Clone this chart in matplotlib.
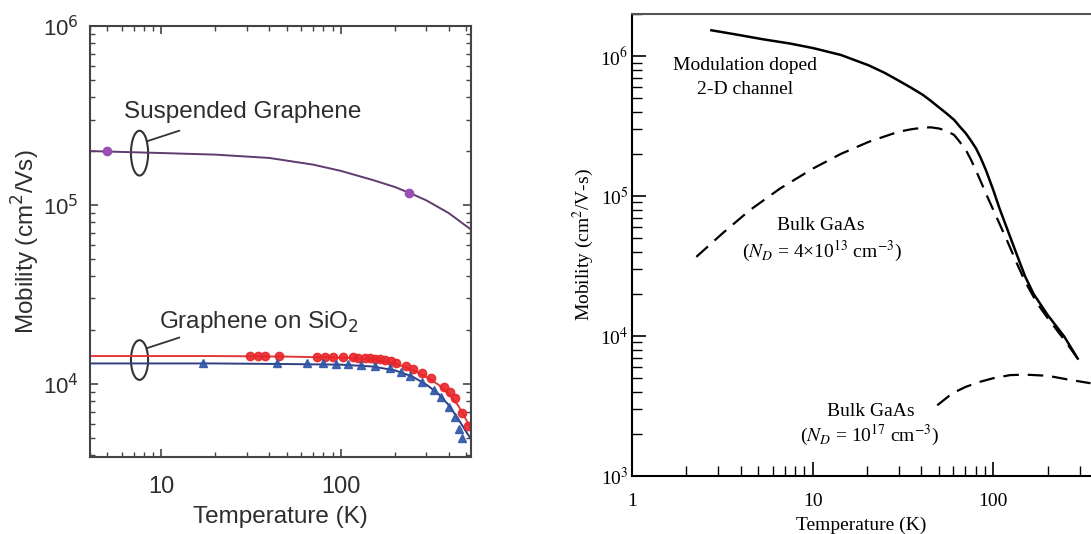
import matplotlib
matplotlib.use("Agg")
import matplotlib.pyplot as plt
from matplotlib.patches import Ellipse
from matplotlib.ticker import LogLocator, NullFormatter

# ---- left panel data (graphene) ----
susp_pts_T = [5, 240]
susp_pts_mu = [2.0e5, 1.17e5]
susp_fit_T = [4, 10, 20, 40, 70, 100, 150, 200, 250, 300, 400, 540]
susp_fit_mu = [2.0e5, 1.95e5, 1.91e5, 1.83e5, 1.68e5, 1.55e5, 1.38e5, 1.26e5, 1.15e5, 1.06e5, 9.0e4, 7.2e4]

red_T = [31, 34.5, 38, 45, 74, 82, 91, 103, 117, 125, 136, 145, 155, 165, 177,
         190, 203, 231, 254, 282, 318, 378, 404, 432, 473, 515]
red_mu = [1.43e4, 1.43e4, 1.43e4, 1.43e4, 1.42e4, 1.42e4, 1.42e4, 1.41e4, 1.41e4, 1.40e4,
          1.40e4, 1.39e4, 1.38e4, 1.37e4, 1.36e4, 1.34e4, 1.31e4, 1.26e4, 1.21e4, 1.15e4,
          1.08e4, 9.6e3, 9.0e3, 8.3e3, 6.9e3, 5.8e3]
red_fit_T = [4, 20, 50, 100, 150, 200, 250, 300, 350, 400, 450, 500, 540]
red_fit_mu = [1.43e4, 1.43e4, 1.42e4, 1.40e4, 1.37e4, 1.30e4, 1.20e4, 1.09e4, 9.9e3, 8.8e3,
              7.6e3, 6.3e3, 5.4e3]

blue_T = [17, 44, 65, 80, 94, 110, 130, 155, 187, 216, 244, 282, 330, 363, 400, 432, 455, 473]
blue_mu = [1.30e4, 1.30e4, 1.30e4, 1.30e4, 1.29e4, 1.29e4, 1.28e4, 1.26e4, 1.22e4, 1.17e4,
           1.10e4, 1.02e4, 9.2e3, 8.4e3, 7.4e3, 6.5e3, 5.6e3, 5.0e3]
blue_fit_T = [4, 20, 50, 100, 150, 200, 250, 300, 350, 400, 450, 500, 540]
blue_fit_mu = [1.30e4, 1.30e4, 1.29e4, 1.28e4, 1.25e4, 1.19e4, 1.10e4, 9.9e3, 8.8e3, 7.6e3,
               6.4e3, 5.4e3, 4.8e3]

# ---- right panel data (GaAs) ----
mod_T = [2.75, 3.74, 5.3, 7.5, 10.1, 14.3, 20.4, 25, 29.8, 35, 40.6, 45, 50, 55, 60.7,
         65, 70.5, 75, 80.2, 85, 91, 100, 108, 120, 135, 150, 167, 200, 247, 293]
mod_mu = [1.53e6, 1.43e6, 1.32e6, 1.23e6, 1.14e6, 1.02e6, 8.6e5, 7.6e5, 6.7e5, 5.95e5,
          5.3e5, 4.8e5, 4.3e5, 3.9e5, 3.5e5, 3.15e5, 2.8e5, 2.5e5, 2.19e5, 1.88e5,
          1.53e5, 1.1e5, 8.2e4, 5.7e4, 3.8e4, 2.66e4, 2.0e4, 1.41e4, 9.9e3, 6.9e3]
bulk1_T = [2.27, 3.16, 4.47, 6.58, 10.1, 14.3, 20.4, 29.8, 35, 40.6, 45, 50, 55, 60.7,
           65, 70.5, 75, 80, 85, 91, 104, 120, 135, 150, 175, 200, 247, 293]
bulk1_mu = [3.68e4, 5.4e4, 7.9e4, 1.13e5, 1.58e5, 2.0e5, 2.44e5, 2.88e5, 3.0e5, 3.08e5,
            3.1e5, 3.04e5, 2.93e5, 2.73e5, 2.45e5, 2.13e5, 1.83e5, 1.53e5, 1.28e5,
            1.04e5, 7.1e4, 4.7e4, 3.3e4, 2.44e4, 1.71e4, 1.34e4, 9.4e3, 6.9e3]
bulk2_T = [48.9, 59.3, 70.5, 83.8, 100, 124, 150, 200, 257, 345]
bulk2_mu = [3.2e3, 3.9e3, 4.34e3, 4.7e3, 5.0e3, 5.26e3, 5.3e3, 5.2e3, 4.9e3, 4.6e3]

fig = plt.figure(figsize=(10.91, 5.34), dpi=100)

# ================= left panel =================
sans = ['Liberation Sans', 'DejaVu Sans']
ink = '#2e2e2e'
ax1 = fig.add_axes([90 / 1091, 1 - 457 / 534, 381 / 1091, 431 / 534])
ax1.set_xscale('log')
ax1.set_yscale('log')
ax1.set_xlim(4, 532)
ax1.set_ylim(3900, 1e6)

ax1.plot(susp_fit_T, susp_fit_mu, color='#5e3c6e', lw=1.4)
ax1.plot(susp_pts_T, susp_pts_mu, 'o', color='#9a4fb0', ms=6)
ax1.plot(red_fit_T, red_fit_mu, color='#e0393a', lw=1.4)
ax1.plot(blue_fit_T, blue_fit_mu, color='#2f3f80', lw=1.4)
ax1.plot(red_T, red_mu, 'o', color='#e8262a', ms=6, alpha=0.9)
ax1.plot(blue_T, blue_mu, '^', color='#2f56a8', ms=5.5, alpha=0.9)

# ellipses + leader lines
ax1.add_patch(Ellipse((0.130, 0.705), 0.045, 0.104, transform=ax1.transAxes,
                      fill=False, ec='#333333', lw=1.5))
ax1.plot([0.151, 0.234], [0.733, 0.757], transform=ax1.transAxes, color='#333333', lw=1.3)
ax1.add_patch(Ellipse((0.130, 0.225), 0.045, 0.092, transform=ax1.transAxes,
                      fill=False, ec='#333333', lw=1.5))
ax1.plot([0.151, 0.234], [0.253, 0.277], transform=ax1.transAxes, color='#333333', lw=1.3)

ax1.text(0.089, 0.80, 'Suspended Graphene', transform=ax1.transAxes,
         fontsize=17.5, family=sans, color=ink, va='center')
ax1.text(0.18, 0.313, 'Graphene on SiO$_2$', transform=ax1.transAxes,
         fontsize=17.5, family=sans, color=ink, va='center')

ax1.set_xlabel('Temperature (K)', fontsize=17.5, family=sans, color=ink, labelpad=5.5)
ax1.set_ylabel('Mobility (cm$^2$/Vs)', fontsize=17.5, family=sans, color=ink, labelpad=1)
ax1.set_xticks([10, 100])
ax1.set_xticklabels(['10', '100'])
ax1.set_yticks([1e4, 1e5, 1e6])
ax1.set_yticklabels(['10$^4$', '10$^5$', '10$^6$'])
ax1.yaxis.set_minor_locator(LogLocator(base=10, subs=range(2, 10), numticks=20))
ax1.yaxis.set_minor_formatter(NullFormatter())
ax1.xaxis.set_minor_locator(LogLocator(base=10, subs=range(2, 10), numticks=20))
ax1.xaxis.set_minor_formatter(NullFormatter())
ax1.tick_params(which='both', direction='in', top=True, right=True, colors='#444444',
                labelcolor=ink)
ax1.tick_params(axis='x', which='both', pad=14, labelsize=17)
ax1.tick_params(axis='y', which='both', pad=8, labelsize=16)
ax1.tick_params(which='major', length=6, width=1.2)
ax1.tick_params(which='minor', length=3.5, width=1.0)
for lbl in ax1.get_xticklabels() + ax1.get_yticklabels():
    lbl.set_family(sans)
for s in ax1.spines.values():
    s.set_color('#444444')
    s.set_linewidth(1.5)

# ================= right panel =================
serif = ['Liberation Serif', 'DejaVu Serif']
ax2 = fig.add_axes([632 / 1091, 1 - 476 / 534, 459 / 1091, 462 / 534])
ax2.set_xscale('log')
ax2.set_yscale('log')
ax2.set_xlim(1, 347)
ax2.set_ylim(1e3, 2e6)

ax2.plot(mod_T, mod_mu, color='black', lw=1.8)
ax2.plot(bulk1_T, bulk1_mu, color='black', lw=1.6, dashes=(7, 4))
ax2.plot(bulk2_T, bulk2_mu, color='black', lw=1.6, dashes=(7, 4))

notes = [
    (745, 66, 'Modulation doped'),
    (745, 90, '2-D channel'),
    (821, 225, 'Bulk GaAs'),
    (822, 251, r'($N_D$ = 4×10$^{13}$ cm$^{-3}$)'),
    (871, 411, 'Bulk GaAs'),
    (870, 435, r'($N_D$ = 10$^{17}$ cm$^{-3}$)'),
]
for px, py, txt in notes:
    t = fig.text(px / 1091, 1 - py / 534, txt, fontsize=14, family=serif,
                 ha='center', va='center')
    t.set_math_fontfamily('stix')

ax2.set_xlabel('Temperature (K)', fontsize=14, family=serif, labelpad=4.5)
ax2.set_ylabel('Mobility (cm$^2$/V-s)', fontsize=14, family=serif, labelpad=3)
ax2.yaxis.label.set_math_fontfamily('stix')
ax2.set_xticks([1, 10, 100])
ax2.set_xticklabels(['1', '10', '100'])
ax2.set_yticks([1e3, 1e4, 1e5, 1e6])
ax2.set_yticklabels(['10$^3$', '10$^4$', '10$^5$', '10$^6$'])
ax2.yaxis.set_minor_locator(LogLocator(base=10, subs=range(2, 10), numticks=20))
ax2.yaxis.set_minor_formatter(NullFormatter())
ax2.xaxis.set_minor_locator(LogLocator(base=10, subs=range(2, 10), numticks=20))
ax2.xaxis.set_minor_formatter(NullFormatter())
ax2.tick_params(which='both', direction='in', top=False, right=False, labelsize=14)
ax2.tick_params(axis='x', which='both', pad=12.5)
ax2.tick_params(axis='y', which='both', pad=2.5)
ax2.tick_params(which='major', length=10, width=1.2)
ax2.tick_params(which='minor', length=7, width=1.0)
for lbl in ax2.get_xticklabels() + ax2.get_yticklabels():
    lbl.set_family(serif)
    lbl.set_math_fontfamily('stix')
ax2.spines['right'].set_visible(False)
for s in ['left', 'bottom', 'top']:
    ax2.spines[s].set_linewidth(1.5)
ax2.spines['top'].set_color('#555555')

fig.savefig('out.png', dpi=100)
